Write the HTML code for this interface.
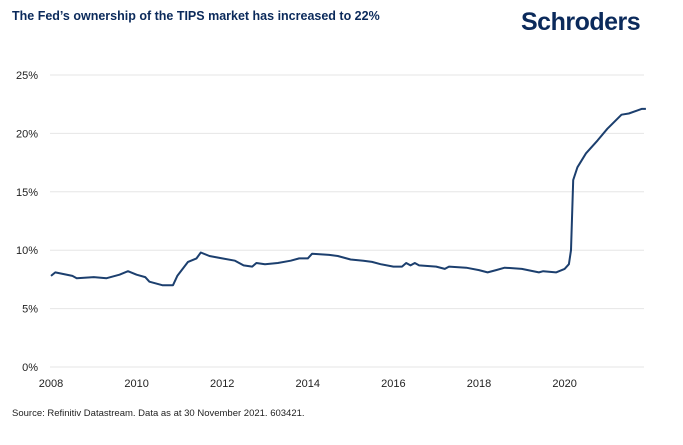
<!DOCTYPE html>
<html><head><meta charset="utf-8"><style>
body{margin:0;background:#fff;font-family:"Liberation Sans",sans-serif}
#wrap{position:relative;width:683px;height:445px;overflow:hidden}
.title{position:absolute;left:12px;top:9px;font-size:12.5px;font-weight:bold;color:#0b2a5b}
.logo{position:absolute;left:521px;top:8px;font-size:25px;font-weight:bold;color:#0b2a5b;letter-spacing:-0.5px}
.src{position:absolute;left:12px;top:408px;font-size:9.5px;color:#222}
</style></head><body>
<div id="wrap">
<div class="title">The Fed’s ownership of the TIPS market has increased to 22%</div>
<div class="logo">Schroders</div>
<svg id="chart" width="683" height="445" style="position:absolute;left:0;top:0"></svg>
<div class="src">Source: Refinitiv Datastream. Data as at 30 November 2021. 603421.</div>
</div>
<script>
const dates=[2008.0,2008.1,2008.5,2008.6,2009.0,2009.3,2009.6,2009.8,2010.0,2010.2,2010.3,2010.6,2010.85,2010.95,2011.2,2011.4,2011.5,2011.7,2012.0,2012.3,2012.5,2012.7,2012.8,2013.0,2013.3,2013.6,2013.8,2014.0,2014.1,2014.5,2014.7,2015.0,2015.3,2015.5,2015.7,2016.0,2016.2,2016.3,2016.4,2016.5,2016.6,2017.0,2017.2,2017.3,2017.7,2018.0,2018.2,2018.4,2018.6,2019.0,2019.4,2019.5,2019.8,2020.0,2020.1,2020.15,2020.2,2020.3,2020.5,2020.77,2021.0,2021.33,2021.5,2021.8,2021.9];
const values=[7.8,8.1,7.8,7.6,7.7,7.6,7.9,8.2,7.9,7.7,7.3,7.0,7.0,7.8,9.0,9.3,9.8,9.5,9.3,9.1,8.7,8.6,8.9,8.8,8.9,9.1,9.3,9.3,9.7,9.6,9.5,9.2,9.1,9.0,8.8,8.6,8.6,8.9,8.7,8.9,8.7,8.6,8.4,8.6,8.5,8.3,8.1,8.3,8.5,8.4,8.1,8.2,8.1,8.4,8.8,10.0,16.0,17.1,18.3,19.4,20.4,21.6,21.7,22.1,22.1];
const yTicks=[0,5,10,15,20,25];
const xTicks=[2008,2010,2012,2014,2016,2018,2020];
const svg=document.getElementById('chart');const NS='http://www.w3.org/2000/svg';
const X0=50,X1=644,Y0=367,Y1=75;
const xs=d=>51+(d-2008)*42.8;
const ys=v=>Y0-(v/25)*(Y0-Y1);
function mk(t,a){const e=document.createElementNS(NS,t);for(const k in a)e.setAttribute(k,a[k]);svg.appendChild(e);return e;}
yTicks.forEach(v=>{
 const l=mk('line',{x1:X0,x2:X1,y1:ys(v),y2:ys(v),stroke:'#e6e6e6','stroke-width':1});
 
 
 const t=mk('text',{x:38,y:ys(v)+4,'text-anchor':'end','font-size':11,fill:'#222','font-family':'Liberation Sans, sans-serif'});
 t.textContent=v+'%';
 
 
});
xTicks.forEach(d=>{
 const t=mk('text',{x:xs(d),y:387,'text-anchor':'middle','font-size':11,fill:'#222','font-family':'Liberation Sans, sans-serif'});
 t.textContent=d;
 
 
});
const p=mk('path',{d:dates.map((d,i)=>(i?'L':'M')+xs(d).toFixed(1)+','+ys(values[i]).toFixed(1)).join(''),fill:'none',stroke:'#1c3f6e','stroke-width':2,'stroke-linejoin':'round'});


</script>
</body></html>
